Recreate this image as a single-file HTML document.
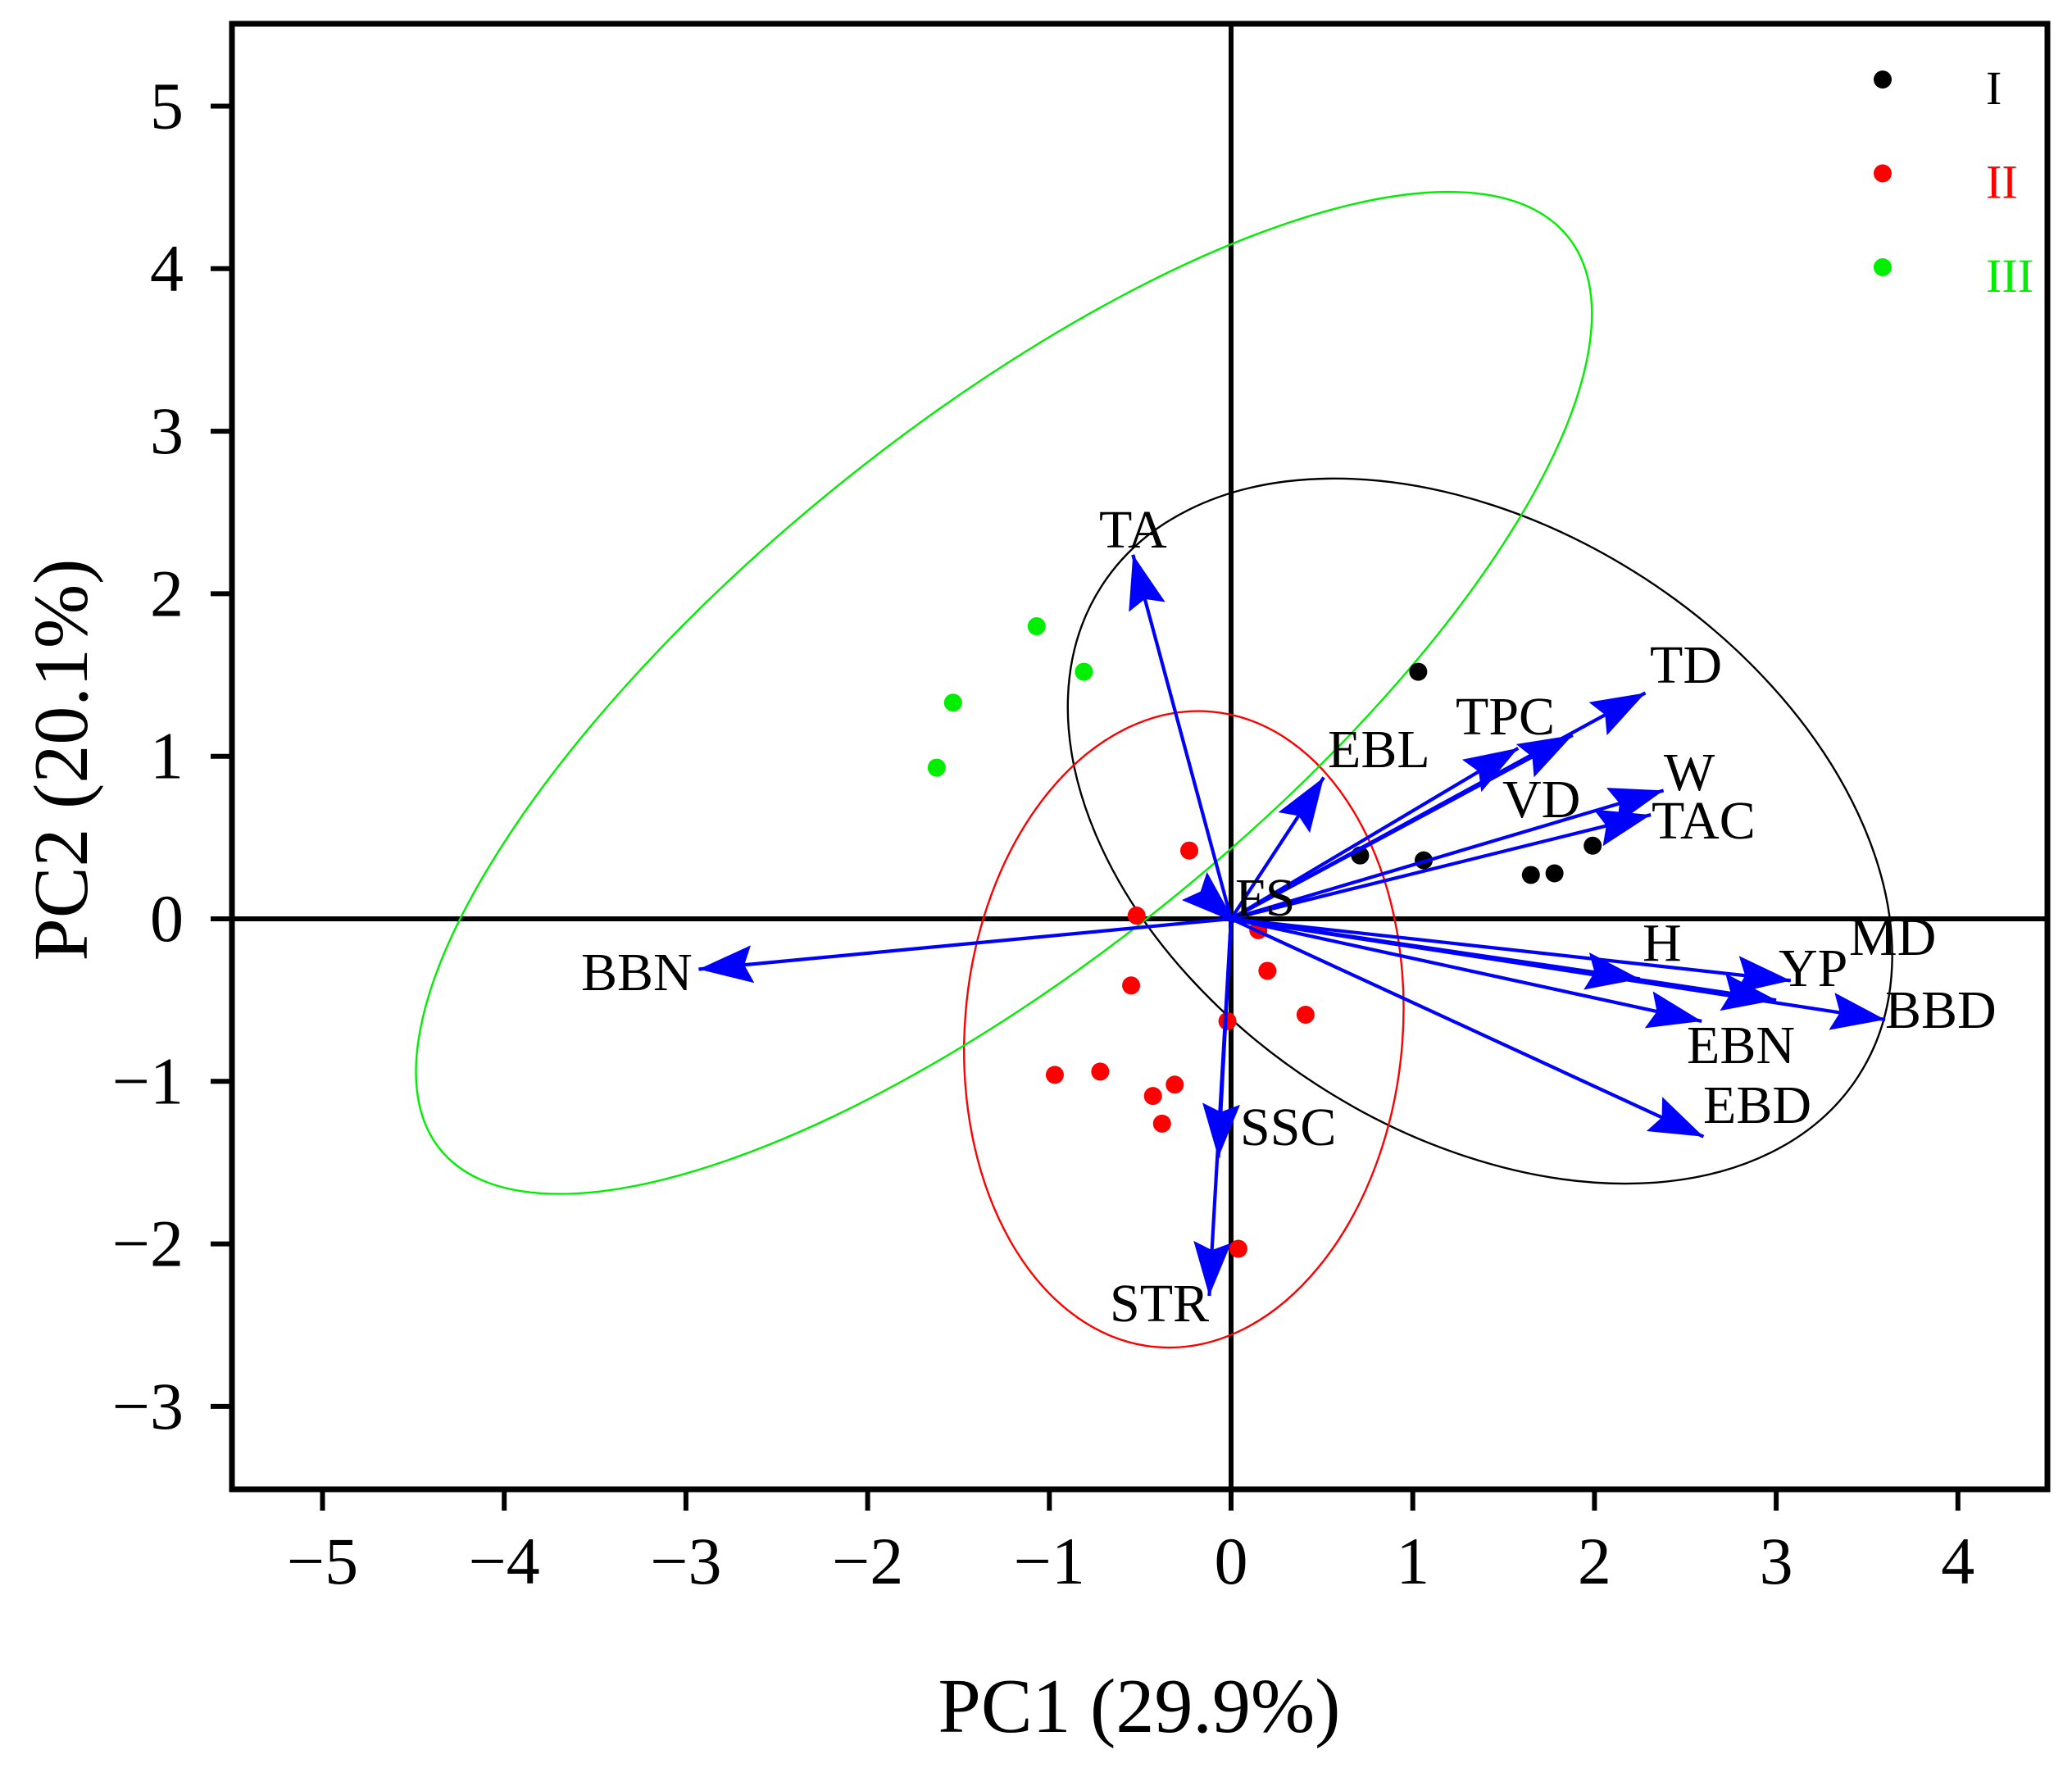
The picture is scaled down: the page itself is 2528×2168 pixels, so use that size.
<!DOCTYPE html>
<html><head><meta charset="utf-8"><style>
html,body{margin:0;padding:0;background:#fff;}
svg{display:block;font-family:"Liberation Serif",serif;}
</style></head>
<body>
<svg id="chart" width="2528" height="2168" viewBox="0 0 2528 2168" xmlns="http://www.w3.org/2000/svg">
<defs>
<marker id="ah" markerUnits="userSpaceOnUse" markerWidth="72" markerHeight="50" refX="66" refY="23" orient="auto">
<path d="M0,0 L66,23 L0,46 L10,23 Z" fill="#0000ff"/>
</marker>
</defs>
<g id="layer"></g>
</svg>
<script>
// ---- data ----
const xTicks = [-5,-4,-3,-2,-1,0,1,2,3,4];
const yTicks = [-3,-2,-1,0,1,2,3,4,5];
const xTickLabels = ["\u22125","\u22124","\u22123","\u22122","\u22121","0","1","2","3","4"];
const yTickLabels = ["\u22123","\u22122","\u22121","0","1","2","3","4","5"];
const group1X = [0.71,1.03,1.06,1.65,1.78,1.99];
const group1Y = [0.39,1.52,0.36,0.27,0.28,0.45];
const group2X = [-0.23,-0.52,-0.55,0.15,0.20,0.41,-0.02,-0.97,-0.72,-0.43,-0.31,-0.38,0.04];
const group2Y = [0.42,0.02,-0.41,-0.07,-0.32,-0.59,-0.63,-0.96,-0.94,-1.09,-1.02,-1.26,-2.03];
const group3X = [-1.07,-0.81,-1.53,-1.62];
const group3Y = [1.80,1.52,1.33,0.93];
const varNames = ["TA","FS","EBL","TPC","VD","TD","W","TAC","H","YP","MD","BBD","EBN","EBD","SSC","STR","BBN"];
const loadX = [-0.54,0.02,0.51,1.58,1.88,2.28,2.38,2.31,2.25,3.08,3.00,3.60,2.59,2.60,-0.07,-0.12,-2.93];
const loadY = [2.24,-0.02,0.87,1.05,1.13,1.39,0.79,0.64,-0.37,-0.38,-0.50,-0.62,-0.63,-1.34,-1.47,-2.32,-0.31];
// ellipse centers (data units)
const ellCX = [1.37,-0.26,-1.25];
const ellCY = [0.54,-0.68,1.39];

// ---- layout ----
const L=283,R=2498,T=29,B=1817;
const X0=1502, UX=221.7, Y0=1121, UY=198.3;
function sx(v){return X0+v*UX;}
function sy(v){return Y0-v*UY;}
const NS="http://www.w3.org/2000/svg";
const layer=document.getElementById('layer');
function mk(tag,attrs,parent){const e=document.createElementNS(NS,tag);for(const k in attrs)e.setAttribute(k,attrs[k]);(parent||layer).appendChild(e);return e;}

// frame
let e=mk('rect',{x:L,y:T,width:R-L,height:B-T,fill:'none',stroke:'#000','stroke-width':7});



// ticks
xTicks.forEach((v,i)=>{
  let t=mk('line',{x1:sx(v),x2:sx(v),y1:B,y2:B+26,stroke:'#000','stroke-width':6});
  
  
  let lb=mk('text',{x:sx(v),y:1932,'font-size':82,'text-anchor':'middle',fill:'#000'});
  lb.textContent=xTickLabels[i];
  
  
});
yTicks.forEach((v,i)=>{
  let t=mk('line',{x1:L-26,x2:L,y1:sy(v),y2:sy(v),stroke:'#000','stroke-width':6});
  
  
  let lb=mk('text',{x:224,y:sy(v)+27,'font-size':82,'text-anchor':'end',fill:'#000'});
  lb.textContent=yTickLabels[i];
  
  
});

// zero lines
e=mk('line',{x1:sx(0),x2:sx(0),y1:T,y2:B,stroke:'#000','stroke-width':6});


e=mk('line',{x1:L,x2:R,y1:sy(0),y2:sy(0),stroke:'#000','stroke-width':6});



// ellipses (sizes in px)
const ellStyle=[{rx:550,ry:368,rot:33,c:'#000000',n:'ellipse-group-I'},
                {rx:267,ry:389,rot:5,c:'#ff0000',n:'ellipse-group-II'},
                {rx:885,ry:324,rot:-39,c:'#00ee00',n:'ellipse-group-III'}];
ellStyle.forEach((s,i)=>{
  const cx=sx(ellCX[i]), cy=sy(ellCY[i]);
  let el=mk('ellipse',{cx:cx,cy:cy,rx:s.rx,ry:s.ry,transform:`rotate(${s.rot} ${cx} ${cy})`,fill:'none',stroke:s.c,'stroke-width':2.4});
  
  
});

// points
function pts(xs,ys,col,name){
  xs.forEach((x,i)=>{
    let c=mk('circle',{cx:sx(x),cy:sy(ys[i]),r:11,fill:col});
    
    
  });
}
pts(group1X,group1Y,'#000000','point-group-I');
pts(group2X,group2Y,'#ff0000','point-group-II');
pts(group3X,group3Y,'#00ee00','point-group-III');

// loading arrows
const labelPos={TA:[1341,668],FS:[1507,1117],EBL:[1620,936],TPC:[1776,896],VD:[1833,997],TD:[2013,833],W:[2030,964],TAC:[2015,1023],H:[2004,1172],YP:[2170,1203],MD:[2256,1165],BBD:[2300,1254],EBN:[2058,1297],EBD:[2078,1370],SSC:[1513,1397],STR:[1354,1612],BBN:[709,1208]};
varNames.forEach((n,i)=>{
  let a=mk('line',{x1:sx(0),y1:sy(0),x2:sx(loadX[i]),y2:sy(loadY[i]),stroke:'#0000ff','stroke-width':4.2,'marker-end':'url(#ah)'});
  
  
});
varNames.forEach((n,i)=>{
  const p=labelPos[n];
  let t=mk('text',{x:p[0],y:p[1],'font-size':66,fill:'#000'});
  t.textContent=n;
  
  
});

// legend
const legNames=["I","II","III"];
const legColors=["#000000","#ff0000","#00ee00"];
legNames.forEach((n,i)=>{
  const y=97+i*114.5;
  let c=mk('circle',{cx:2297,cy:y,r:11,fill:legColors[i]});
  
  
  let t=mk('text',{x:2423,y:y+30,'font-size':58,fill:legColors[i]});
  t.textContent=n;
  
  
});

// axis titles
e=mk('text',{x:1390,y:2113,'font-size':94,'text-anchor':'middle',fill:'#000'});
e.textContent='PC1 (29.9%)';


e=mk('text',{x:0,y:0,'font-size':94,'text-anchor':'middle',fill:'#000',transform:'translate(106,927) rotate(-90)'});
e.textContent='PC2 (20.1%)';


</script>
</body></html>
